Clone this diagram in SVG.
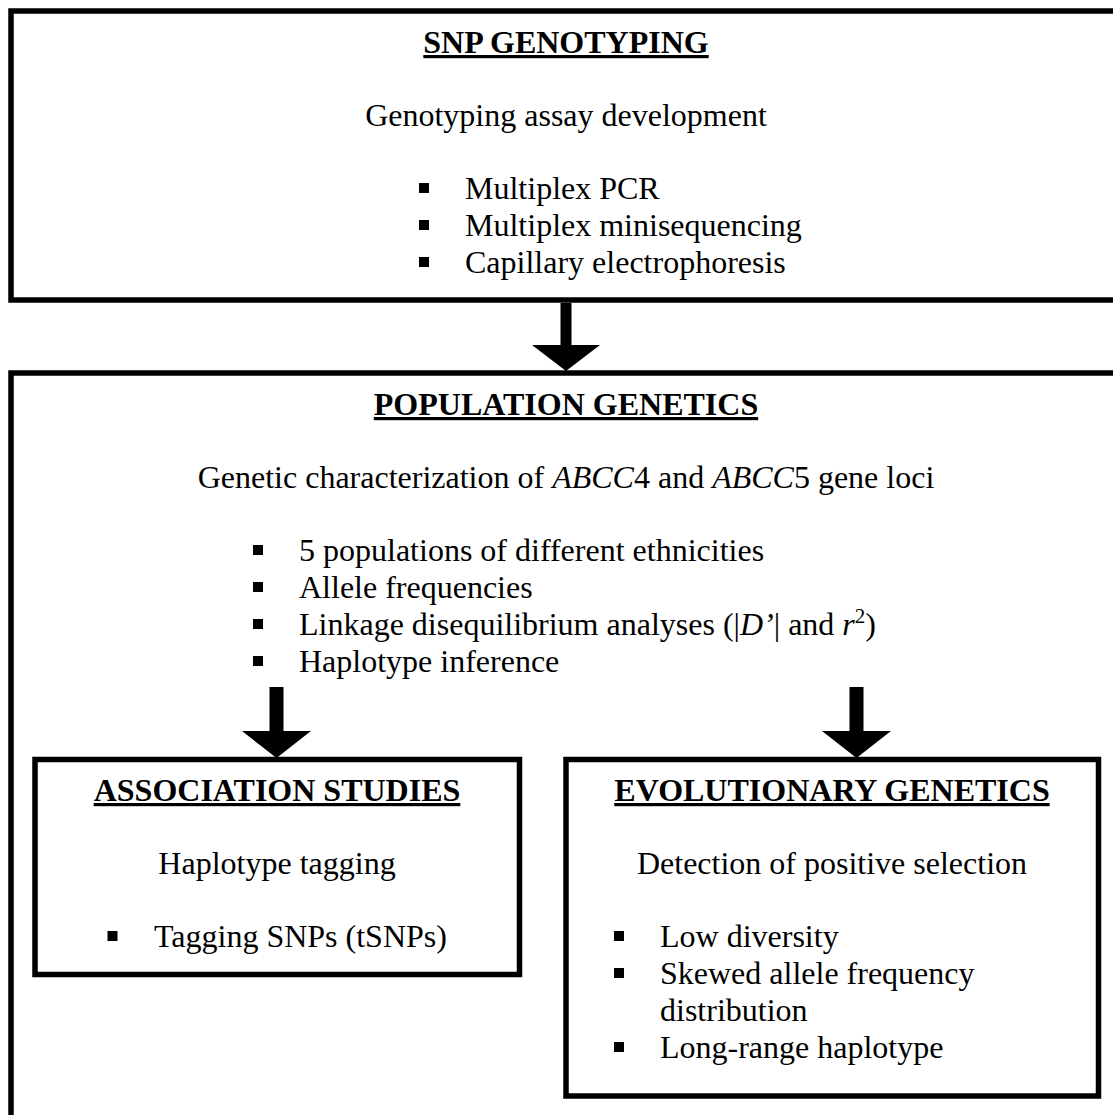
<svg xmlns="http://www.w3.org/2000/svg" width="1113" height="1115" viewBox="0 0 1113 1115">
  <style>
    .box { fill: #ffffff; stroke: #000000; stroke-width: 5.5; }
    .txt { font-family: "Liberation Serif", "Times New Roman", serif; font-size: 32px; fill: #000000; }
    .title { font-weight: bold; text-decoration: underline; }
    .mid { text-anchor: middle; }
    .it { font-style: italic; }
    .bullet { fill: #000000; }
    .arrow { fill: #000000; stroke: none; }
  </style>
  <rect x="0" y="0" width="1113" height="1115" fill="#ffffff"/>

  <g id="snp-genotyping">
    <rect class="box" x="11" y="11" width="1115" height="289"/>
    <text class="txt title mid" x="566" y="53">SNP GENOTYPING</text>
    <text class="txt mid" x="566" y="126">Genotyping assay development</text>
    <rect class="bullet" x="419" y="183" width="10" height="10"/>
    <text class="txt" x="465" y="199">Multiplex PCR</text>
    <rect class="bullet" x="419" y="220" width="10" height="10"/>
    <text class="txt" x="465" y="236">Multiplex minisequencing</text>
    <rect class="bullet" x="419" y="257" width="10" height="10"/>
    <text class="txt" x="465" y="273">Capillary electrophoresis</text>
  </g>

  <g id="population-genetics">
    <rect class="box" x="11" y="373" width="1115" height="760"/>
    <text class="txt title mid" x="566" y="415">POPULATION GENETICS</text>
    <text class="txt mid" x="566" y="488">Genetic characterization of <tspan class="it">ABCC</tspan>4 and <tspan class="it">ABCC</tspan>5 gene loci</text>
    <rect class="bullet" x="253" y="545" width="10" height="10"/>
    <text class="txt" x="299" y="561">5 populations of different ethnicities</text>
    <rect class="bullet" x="253" y="582" width="10" height="10"/>
    <text class="txt" x="299" y="598">Allele frequencies</text>
    <rect class="bullet" x="253" y="619" width="10" height="10"/>
    <text class="txt" x="299" y="635">Linkage disequilibrium analyses (|<tspan class="it">D’</tspan>| and <tspan class="it">r</tspan><tspan font-size="21" dy="-12">2</tspan><tspan dy="12">)</tspan></text>
    <rect class="bullet" x="253" y="656" width="10" height="10"/>
    <text class="txt" x="299" y="672">Haplotype inference</text>
  </g>

  <g id="association-studies">
    <rect class="box" x="35" y="759.5" width="484.5" height="215"/>
    <text class="txt title mid" x="277" y="801">ASSOCIATION STUDIES</text>
    <text class="txt mid" x="277" y="874">Haplotype tagging</text>
    <rect class="bullet" x="107.5" y="931" width="10" height="10"/>
    <text class="txt" x="154" y="947">Tagging SNPs (tSNPs)</text>
  </g>

  <g id="evolutionary-genetics">
    <rect class="box" x="566" y="759.5" width="532.5" height="336.5"/>
    <text class="txt title mid" x="832" y="801">EVOLUTIONARY GENETICS</text>
    <text class="txt mid" x="832" y="874">Detection of positive selection</text>
    <rect class="bullet" x="614" y="931" width="10" height="10"/>
    <text class="txt" x="660" y="947">Low diversity</text>
    <rect class="bullet" x="614" y="968" width="10" height="10"/>
    <text class="txt" x="660" y="984">Skewed allele frequency</text>
    <text class="txt" x="660" y="1021">distribution</text>
    <rect class="bullet" x="614" y="1042" width="10" height="10"/>
    <text class="txt" x="660" y="1058">Long-range haplotype</text>
  </g>

  <g id="connectors">
    <path class="arrow" d="M560.5,303 H571.5 V345 H600 L566,371 L532,345 H560.5 Z"/>
    <path class="arrow" d="M269.5,687 H283.5 V731 H311 L276.5,758 L242,731 H269.5 Z"/>
    <path class="arrow" d="M849.5,687 H863.5 V731 H891 L856.5,758 L822,731 H849.5 Z"/>
  </g>
</svg>
